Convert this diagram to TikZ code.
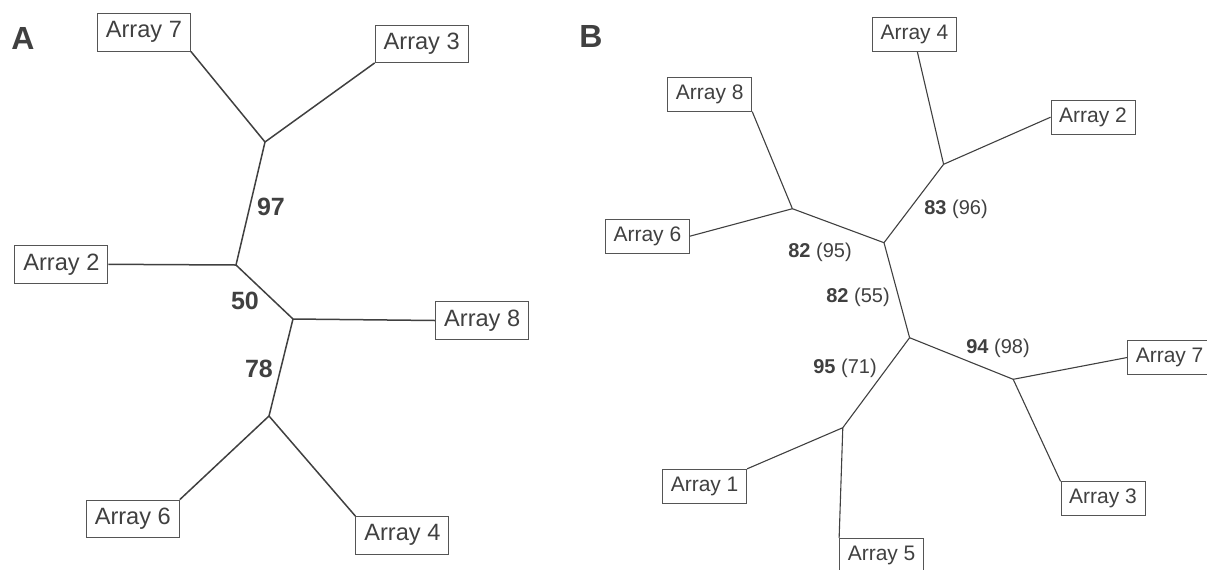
\documentclass[tikz,border=0pt]{standalone}
\usepackage{fontspec}
\setmainfont{Liberation Sans}
\usepackage{tikz}
\definecolor{treegray}{RGB}{64,64,64}
\definecolor{boxgray}{RGB}{85,85,85}

\begin{document}
\begin{tikzpicture}[x=0.5pt, y=-0.5pt,
    leafA/.style={draw=boxgray, line width=0.5pt, text=treegray, inner sep=0pt,
        minimum width=46.5pt, minimum height=18.7pt, font=\fontsize{11.8}{13}\selectfont},
    leafB/.style={draw=boxgray, line width=0.45pt, text=treegray, inner sep=0pt,
        minimum width=42pt, minimum height=17pt, font=\fontsize{10.5}{12}\selectfont},
    supA/.style={text=treegray, font=\fontsize{12.5}{14}\selectfont\bfseries, inner sep=1pt},
    supB/.style={text=treegray, font=\fontsize{10}{12}\selectfont, inner sep=1pt},
    edgeA/.style={draw=treegray, line width=0.75pt},
    edgeB/.style={draw=treegray, line width=0.55pt}]
    \useasboundingbox (0,0) rectangle (1207,569);
    \clip (0,0) rectangle (1207,569);

    % panel A
    \node[text=treegray, font=\fontsize{16}{18}\selectfont\bfseries] (labA) at (23,38) {A};
    \coordinate (j1) at (265,142);
    \coordinate (j2) at (236,265);
    \coordinate (j3) at (293,319);
    \coordinate (j4) at (269,416);

    \node[leafA] (a7) at (143.9,32.3) {Array 7};
    \node[leafA] (a3) at (421.7,43.7) {Array 3};
    \node[leafA] (a2) at (61.4,264.3) {Array 2};
    \node[leafA] (a8) at (482.2,320.5) {Array 8};
    \node[leafA] (a6) at (132.8,518.8) {Array 6};
    \node[leafA] (a4) at (402.4,535.3) {Array 4};

    \draw[edgeA] (a7.south east) -- (j1);
    \draw[edgeA] (a3.south west) -- (j1);
    \draw[edgeA] (j1) -- (j2);
    \draw[edgeA] (a2.east) -- (j2);
    \draw[edgeA] (j2) -- (j3);
    \draw[edgeA] (j3) -- (a8.west);
    \draw[edgeA] (j3) -- (j4);
    \draw[edgeA] (j4) -- (a6.north east);
    \draw[edgeA] (j4) -- (a4.north west);

    \node[supA] (s97) at (271,207) {97};
    \node[supA] (s50) at (245,301) {50};
    \node[supA] (s78) at (259,369) {78};

    % panel B
    \node[text=treegray, font=\fontsize{16}{18}\selectfont\bfseries] (labB) at (591,36) {B};
    \coordinate (k1) at (943.6,164.3);
    \coordinate (k2) at (792.4,208.7);
    \coordinate (k3) at (884,242.7);
    \coordinate (k4) at (909.6,337.7);
    \coordinate (k5) at (1013.2,379.3);
    \coordinate (k6) at (842.8,427.7);

    \node[leafB] (b4) at (914.4,34.5) {Array 4};
    \node[leafB] (b2) at (1093,117.2) {Array 2};
    \node[leafB] (b8) at (709.8,94.2) {Array 8};
    \node[leafB] (b6) at (647.4,236.2) {Array 6};
    \node[leafB] (b7) at (1169.6,357.5) {Array 7};
    \node[leafB] (b3) at (1103,498.8) {Array 3};
    \node[leafB] (b1) at (704.6,486.3) {Array 1};
    \node[leafB] (b5) at (881.6,555.3) {Array 5};

    \draw[edgeB] ([xshift=1.5pt]b4.south) -- (k1);
    \draw[edgeB] (b2.west) -- (k1);
    \draw[edgeB] (k1) -- (k3);
    \draw[edgeB] (b8.south east) -- (k2);
    \draw[edgeB] (b6.east) -- (k2);
    \draw[edgeB] (k2) -- (k3);
    \draw[edgeB] (k3) -- (k4);
    \draw[edgeB] (k4) -- (k5);
    \draw[edgeB] (b7.west) -- (k5);
    \draw[edgeB] (b3.north west) -- (k5);
    \draw[edgeB] (k4) -- (k6);
    \draw[edgeB] (b1.north east) -- (k6);
    \draw[edgeB] (b5.north west) -- (k6);

    \node[supB] (s83) at (956,209) {\textbf{83} (96)};
    \node[supB] (s82a) at (820,252) {\textbf{82} (95)};
    \node[supB] (s82b) at (858,297) {\textbf{82} (55)};
    \node[supB] (s94) at (998,348) {\textbf{94} (98)};
    \node[supB] (s95) at (845,368) {\textbf{95} (71)};
\end{tikzpicture}
\end{document}
